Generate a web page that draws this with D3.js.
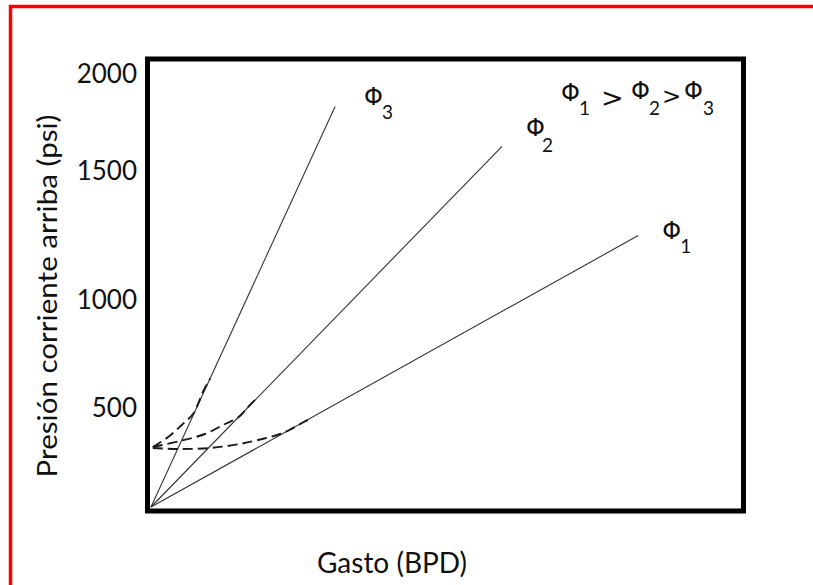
<!DOCTYPE html>
<html><head><meta charset="utf-8">
<script src="https://cdn.jsdelivr.net/npm/d3@7"></script>
<style>
html,body{margin:0;padding:0;background:#fff;}
svg{display:block;font-family:Lato,'Open Sans','DejaVu Sans',sans-serif;}
</style></head>
<body>
<svg id="chart" width="813" height="585"></svg>
<script>
// ---- data ----
const yTickValues = [500, 1000, 1500, 2000];
const seriesNames = ["Φ3", "Φ2", "Φ1"];
const seriesEndX = [311, 593, 823];      // Gasto (arbitrary units)
const seriesEndY = [1827, 1622, 1246];   // psi
const curveA = [[3,300],[29,350],[52,410],[71,465],[79,511],[88,572],[100,632]];
const curveB = [[3,300],[49,330],[91,365],[125,415],[147,447],[167,509],[181,546]];
const curveC = [[3,295],[49,290],[100,295],[150,315],[188,340],[218,365],[235,387],[255,420],[269,442]];
const subs = ["3","2","1"];

const svg = d3.select("#chart");

// red outer frame
svg.append("rect").attr("x",10.5).attr("y",6.5).attr("width",900).attr("height",700)
  .attr("fill","none").attr("stroke","#ff0000").attr("stroke-width",3.5);

const x = d3.scaleLinear().domain([0,1000]).range([151,743]);
const y = d3.scaleLinear().domain([0,500,1000,1500,2000]).range([507,407,299,170,73]);

// plot frame
svg.append("rect").attr("x",147.5).attr("y",59).attr("width",596).attr("height",452)
  .attr("fill","none").attr("stroke","#000").attr("stroke-width",5);

// y axis labels
const yAxis = d3.axisLeft(y).tickValues(yTickValues).tickSize(0).tickPadding(0).tickFormat(d3.format("d"));
const ga = svg.append("g").attr("transform","translate(137,0)").call(yAxis);
ga.select(".domain").remove();
ga.selectAll("text").attr("font-size",26).attr("fill","#111")
  .attr("font-family","Lato,'Open Sans',sans-serif").attr("dy","0.36em");

// lines
seriesNames.forEach((n,i)=>{
  svg.append("line")
    .attr("x1",x(0)).attr("y1",y(0))
    .attr("x2",x(seriesEndX[i])).attr("y2",y(seriesEndY[i]))
    .attr("stroke","#333").attr("stroke-width",1.1);
});

// dashed curves
const lineGen = d3.line().x(d=>x(d[0])).y(d=>y(d[1])).curve(d3.curveCatmullRom);
[curveA, curveB, curveC].forEach(c=>{
  svg.append("path").attr("d",lineGen(c)).attr("fill","none")
    .attr("stroke","#1a1a1a").attr("stroke-width",1.9).attr("stroke-dasharray","10,5");
});

function phi(px, py, sub, sx, sy){
  svg.append("text").attr("x",px).attr("y",py).attr("font-size",24)
    .attr("font-family","'DejaVu Sans',sans-serif").attr("fill","#111").text("Φ");
  svg.append("text").attr("x",sx).attr("y",sy).attr("font-size",19)
    .attr("font-family","Lato,'Open Sans',sans-serif").attr("fill","#111").text(sub);
}

// series labels
const phiDx = [29, 24, 24], phiDy = [-2, -10, 3];
const subDx = [47, 40, 42], subDy = [12, 6, 17];
seriesNames.forEach((n,i)=>{
  const ex = x(seriesEndX[i]), ey = y(seriesEndY[i]);
  phi(ex+phiDx[i], ey+phiDy[i], subs[i], ex+subDx[i], ey+subDy[i]);
});

// relation label  Φ1 > Φ2 > Φ3
phi(561, 101, "1", 579, 115);
svg.append("text").attr("x",601).attr("y",107).attr("font-size",27)
  .attr("font-family","'DejaVu Sans',sans-serif").attr("fill","#111").text(">");
phi(631, 99, "2", 649, 115);
svg.append("text").attr("x",662).attr("y",104).attr("font-size",23)
  .attr("font-family","'DejaVu Sans',sans-serif").attr("fill","#111").text(">");
phi(684, 99, "3", 703, 115);

// axis titles
svg.append("text").attr("x",392).attr("y",573).attr("text-anchor","middle")
  .attr("font-size",28).attr("fill","#111").text("Gasto (BPD)");
svg.append("text").attr("transform","translate(57,296) rotate(-90)").attr("text-anchor","middle")
  .attr("font-size",27).attr("textLength",363).attr("lengthAdjust","spacingAndGlyphs")
  .attr("fill","#111").text("Presión corriente arriba (psi)");
</script>
</body></html>
